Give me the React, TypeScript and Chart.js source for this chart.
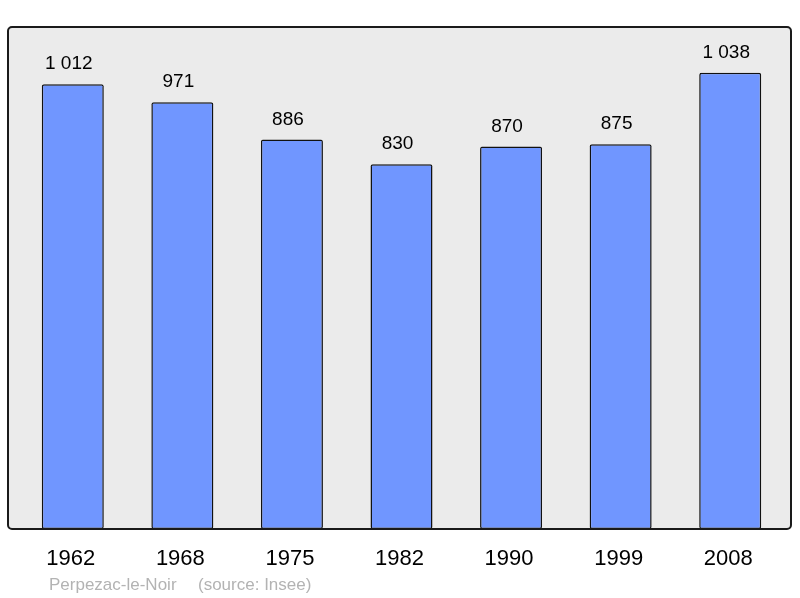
import React, { useEffect, useRef } from "react";
import { Chart, registerables } from "chart.js";

Chart.register(...registerables);

const years = ["1962", "1968", "1975", "1982", "1990", "1999", "2008"];
const population = [1012, 971, 886, 830, 870, 875, 1038];
const valueLabels = ["1 012", "971", "886", "830", "870", "875", "1 038"];
const sourceName = "Perpezac-le-Noir";
const sourceNote = "(source: Insee)";

const FONT = "'Liberation Sans', Arial, sans-serif";

const frame = {
  id: "frame",
  beforeDatasetsDraw(chart: any) {
    const { ctx, chartArea } = chart;
    const x0 = chartArea.left - 10;
    const x1 = chartArea.right + 6;
    const y0 = chartArea.top;
    const y1 = chartArea.bottom;
    ctx.save();
    ctx.beginPath();
    ctx.roundRect(x0, y0, x1 - x0, y1 - y0, 4);
    ctx.fillStyle = "#ebebeb";
    ctx.fill();
    ctx.restore();
  },
  afterDatasetsDraw(chart: any) {
    const { ctx, chartArea } = chart;
    const x0 = chartArea.left - 10;
    const x1 = chartArea.right + 6;
    const y0 = chartArea.top;
    const y1 = chartArea.bottom;
    ctx.save();
    ctx.beginPath();
    ctx.roundRect(x0, y0, x1 - x0, y1 - y0, 4);
    ctx.lineWidth = 2;
    ctx.strokeStyle = "#1a1a1a";
    ctx.stroke();
    // value labels
    const meta = chart.getDatasetMeta(0);
    ctx.fillStyle = "#000";
    ctx.font = `19px ${FONT}`;
    ctx.textAlign = "center";
    ctx.textBaseline = "alphabetic";
    meta.data.forEach((bar: any, i: number) => {
      ctx.fillText(valueLabels[i], bar.x - 4, bar.y - 15);
    });
    // source
    ctx.fillStyle = "#b3b3b3";
    ctx.font = `17px ${FONT}`;
    ctx.textAlign = "left";
    ctx.fillText(sourceName, 49, 590);
    ctx.fillText(sourceNote, 198, 590);
    ctx.restore();
  },
};

export default function App() {
  const ref = useRef<HTMLCanvasElement | null>(null);
  useEffect(() => {
    if (!ref.current) return;
    const chart = new Chart(ref.current, {
      type: "bar",
      data: {
        labels: years,
        datasets: [
          {
            data: population,
            backgroundColor: "#7096ff",
            borderColor: "#111",
            borderWidth: 1.5,
            borderRadius: 2,
            borderSkipped: false,
            barPercentage: 0.566,
            categoryPercentage: 1,
          },
        ],
      },
      options: {
        animation: false,
        responsive: false,
        maintainAspectRatio: false,
        layout: { padding: { left: 18, right: 15, top: 27, bottom: 8.6 } },
        plugins: { legend: { display: false }, tooltip: { enabled: false }, title: { display: false } },
        scales: {
          x: {
            grid: { display: false, drawTicks: false },
            border: { display: false },
            ticks: { color: "#000", font: { family: FONT, size: 22 }, padding: 17, labelOffset: -2 },
          },
          y: { display: false, min: 0, max: 1142 },
        },
      },
      plugins: [frame],
    });
    return () => chart.destroy();
  }, []);
  return (
    <div style={{ position: "fixed", left: 0, top: 0, width: 800, height: 598, background: "#fff" }}>
      <canvas ref={ref} width={800} height={598} style={{ width: 800, height: 598, display: "block" }} />
    </div>
  );
}
